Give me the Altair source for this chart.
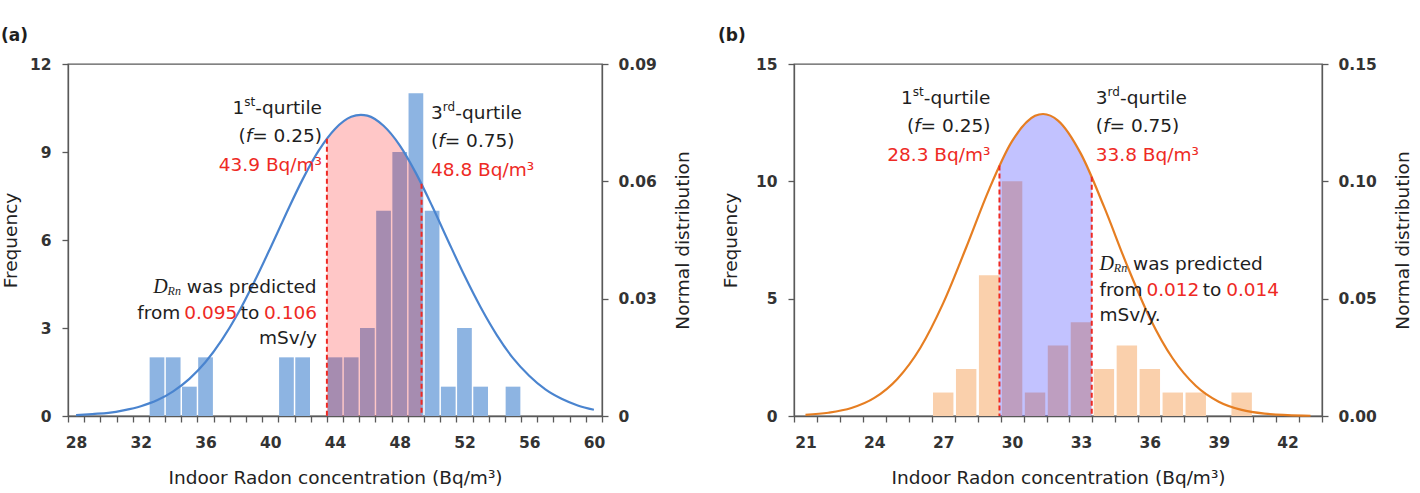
import altair as alt
import pandas as pd

# ---------------- panel (a) data ----------------
a_bins = [33, 34, 35, 36, 41, 42, 44, 45, 46, 47, 48, 49, 50, 51, 52, 53, 55]
a_freq = [2, 2, 1, 2, 2, 2, 2, 2, 3, 7, 9, 11, 7, 1, 3, 1, 1]
a_curve_x = [28, 29, 30, 31, 32, 33, 34, 35, 36, 37, 38, 39, 40, 41, 42, 43, 44, 45, 45.6,
             46, 47, 48, 49, 50, 51, 52, 53, 54, 55, 56, 57, 58, 59, 60]
a_curve_p = [0.0002, 0.0005, 0.0008, 0.0015, 0.0025, 0.0040, 0.0063, 0.0095, 0.0138, 0.0194,
             0.0262, 0.0342, 0.0429, 0.0519, 0.0605, 0.0679, 0.0734, 0.0765, 0.0770,
             0.0768, 0.0742, 0.0692, 0.0621, 0.0537, 0.0447, 0.0359, 0.0278, 0.0207, 0.0148,
             0.0103, 0.0068, 0.0044, 0.0027, 0.0016]
a_shade_x = [43.5, 44, 45, 45.6, 46, 47, 48, 49, 49.35]
a_shade_p = [0.0709, 0.0734, 0.0765, 0.0770, 0.0768, 0.0742, 0.0692, 0.0621, 0.0594]
a_q_x = [43.5, 49.35]
a_q_p = [0.0709, 0.0594]
a_xlabels = [28, 32, 36, 40, 44, 48, 52, 56, 60]
a_freq_ticks = [0, 3, 6, 9, 12]
a_pdf_ticks = [0, 0.03, 0.06, 0.09]

# ---------------- panel (b) data ----------------
b_bins = [27, 28, 29, 30, 31, 32, 33, 34, 35, 36, 37, 38, 40]
b_freq = [1, 2, 6, 10, 1, 3, 4, 2, 3, 2, 1, 1, 1]
b_curve_x = [21, 22, 23, 24, 25, 26, 27, 28, 29, 30, 31, 31.35, 32, 33, 34, 35, 36, 37, 38,
             39, 40, 41, 42, 43]
b_curve_p = [0.0005, 0.0014, 0.0034, 0.0077, 0.0158, 0.0290, 0.0481, 0.0718, 0.0966, 0.1171,
             0.1279, 0.1287, 0.1259, 0.1117, 0.0893, 0.0644, 0.0418, 0.0245, 0.0129, 0.0061,
             0.0026, 0.0010, 0.0004, 0.0001]
b_shade_x = [29.45, 30, 31, 31.35, 32, 33, 33.47]
b_shade_p = [0.1067, 0.1171, 0.1279, 0.1287, 0.1259, 0.1117, 0.1019]
b_q_x = [29.45, 33.47]
b_q_p = [0.1067, 0.1019]
b_xlabels = [21, 24, 27, 30, 33, 36, 39, 42]
b_freq_ticks = [0, 5, 10, 15]
b_pdf_ticks = [0, 0.05, 0.10, 0.15]

XTITLE = "Indoor Radon concentration (Bq/m³)"
YTITLE_L = "Frequency"
YTITLE_R = "Normal distribution"

# ---------------- styling ----------------
FONT = "DejaVu Sans"
SERIF = "Liberation Serif"
AX = "#595959"
BLACK = "#1e1e1e"
RED = "#EE2A24"
FS = 18.5

DV = {' ': 0.318, '.': 0.318, '(': 0.390, ')': 0.390, '=': 0.838, '-': 0.361, '/': 0.337,
      '³': 0.401, 'a': 0.613, 'b': 0.635, 'c': 0.550, 'd': 0.635, 'e': 0.615, 'f': 0.352,
      'i': 0.278, 'l': 0.278, 'm': 0.974, 'n': 0.634, 'o': 0.612, 'p': 0.635, 'q': 0.635,
      'r': 0.411, 's': 0.521, 't': 0.392, 'u': 0.634, 'v': 0.592, 'w': 0.818, 'y': 0.592,
      'B': 0.686, 'D': 0.770, 'R': 0.695, 'S': 0.635}
for _d in '0123456789':
    DV[_d] = 0.636
SERIF_I = {'D': 0.722, 'R': 0.611, 'n': 0.5}

ONE = pd.DataFrame({'k': [0]})


def seg(text, color=BLACK, size=FS, font=FONT, style='normal', dy=0, gap=0.0):
    return dict(text=text, color=color, size=size, font=font, style=style, dy=dy, gap=gap)


def measure(s):
    table = SERIF_I if s['font'] == SERIF else DV
    return sum(table.get(ch, 0.6) for ch in s['text']) * s['size']


def line_layers(segs, x, y, align):
    widths = [measure(s) for s in segs]
    total = sum(widths) + sum(s['gap'] for s in segs)
    cur = x - total if align == 'right' else x
    out = []
    for s, w in zip(segs, widths):
        cur += s['gap']
        out.append(
            alt.Chart(ONE).mark_text(
                align='left', baseline='middle', text=s['text'], font=s['font'],
                fontSize=s['size'], fontStyle=s['style'], color=s['color'], dy=s['dy']
            ).encode(x=alt.value(cur), y=alt.value(y))
        )
        cur += w
    return out


SP = DV[' '] * FS


def annotations(q1, q3, v1, v3, d1, d2, last, p1, p3, pd_, align_d):
    layers = []
    # first quartile (right aligned)
    layers += line_layers([seg("1"), seg("st", size=12, dy=-5.5), seg("-qurtile")], p1[0], p1[1], 'right')
    layers += line_layers([seg("("), seg("f", style='italic'), seg(q1)], p1[0], p1[1] + 28.5, 'right')
    layers += line_layers([seg(v1, color=RED)], p1[0], p1[1] + 57, 'right')
    # third quartile (left aligned)
    layers += line_layers([seg("3"), seg("rd", size=12, dy=-5.5), seg("-qurtile")], p3[0], p3[1], 'left')
    layers += line_layers([seg("("), seg("f", style='italic'), seg(q3)], p3[0], p3[1] + 28.5, 'left')
    layers += line_layers([seg(v3, color=RED)], p3[0], p3[1] + 57, 'left')
    # dose text
    layers += line_layers([seg("D", size=20, font=SERIF, style='italic'),
                           seg("Rn", size=12, font=SERIF, style='italic', dy=4),
                           seg("was predicted", gap=SP)], pd_[0], pd_[1], align_d)
    layers += line_layers([seg("from"), seg(d1, color=RED, gap=SP * 0.6), seg("to", gap=SP * 0.6),
                           seg(d2, color=RED, gap=SP * 0.8)], pd_[0], pd_[1] + 25.5, align_d)
    layers += line_layers([seg(last)], pd_[0], pd_[1] + 51, align_d)
    return layers


def panel(bins, freq, cx, cp, sx, sp, qx, qp, xlabels, xdom, fticks, pticks, pfmt,
          bar_col, half, fill_col, fill_op, line_col, W, H, ltitle_pad, texts, plabel, plabel_x):
    nslots = int(round(xdom[1] - xdom[0]))
    bounds = [xdom[0] + k for k in range(nslots + 1)]
    slot_px = W / nslots
    xscale = alt.Scale(domain=xdom, nice=False, zero=False)
    lab_list = ",".join(str(v) for v in xlabels)
    xaxis = alt.Axis(values=bounds,
                     labelExpr=f"indexof([{lab_list}], datum.value + 0.5) >= 0 ? format(datum.value + 0.5, 'd') : ''",
                     labelOffset=slot_px / 2, labelOverlap=False, labelFlush=False,
                     title=XTITLE, tickSize=6, labelPadding=13, titlePadding=18, grid=False)
    fscale = alt.Scale(domain=[0, fticks[-1]], nice=False)
    pscale = alt.Scale(domain=[0, pticks[-1]], nice=False)

    bars = alt.Chart(pd.DataFrame({'c': bins, 'f': freq, 'z': [0] * len(bins)})).transform_calculate(
        x0=f'datum.c - {half}', x1=f'datum.c + {half}'
    ).mark_bar(color=bar_col).encode(
        x=alt.X('x0:Q', scale=xscale, axis=xaxis), x2='x1:Q',
        y=alt.Y('f:Q', scale=fscale,
                axis=alt.Axis(values=fticks, format='d', title=YTITLE_L, orient='left',
                              titlePadding=ltitle_pad, labelPadding=11, tickSize=6, grid=False)),
        y2='z:Q')
    area = alt.Chart(pd.DataFrame({'x': sx, 'p': sp})).mark_area(
        color=fill_col, opacity=fill_op, interpolate='monotone'
    ).encode(x=alt.X('x:Q', scale=xscale, axis=xaxis), y=alt.Y('p:Q', scale=pscale, axis=None))
    line = alt.Chart(pd.DataFrame({'x': cx, 'p': cp})).mark_line(
        color=line_col, strokeWidth=2.2, interpolate='monotone'
    ).encode(x=alt.X('x:Q', scale=xscale, axis=xaxis),
             y=alt.Y('p:Q', scale=pscale,
                     axis=alt.Axis(values=pticks, format=pfmt, title=YTITLE_R, orient='right',
                                   titleAngle=-90, titleBaseline='top', titlePadding=17,
                                   labelPadding=10, tickSize=6, grid=False)))
    rules = alt.Chart(pd.DataFrame({'x': qx, 'p': qp, 'z': [0] * len(qx)})).mark_rule(
        color=RED, strokeDash=[5, 3], strokeWidth=2
    ).encode(x=alt.X('x:Q', scale=xscale, axis=xaxis),
             y=alt.Y('p:Q', scale=pscale, axis=None), y2='z:Q')
    lab = alt.Chart(ONE).mark_text(align='left', baseline='middle', text=plabel, font=FONT,
                                   fontSize=17, fontWeight='bold', color=BLACK
                                   ).encode(x=alt.value(plabel_x), y=alt.value(-28))
    return alt.layer(bars, area, line, rules, *texts, lab).resolve_scale(y='independent').properties(
        width=W, height=H)


ta = annotations("= 0.25)", "= 0.75)", "43.9 Bq/m³", "48.8 Bq/m³", "0.095", "0.106", "mSv/y",
                 (254, 43.6), (363, 48.6), (249, 223), 'right')
tb = annotations("= 0.25)", "= 0.75)", "28.3 Bq/m³", "33.8 Bq/m³", "0.012", "0.014", "mSv/y.",
                 (196.4, 33.7), (301.8, 33.7), (305.4, 200.3), 'left')

pa = panel(a_bins, a_freq, a_curve_x, a_curve_p, a_shade_x, a_shade_p, a_q_x, a_q_p, a_xlabels,
           [27.5, 60.5], a_freq_ticks, a_pdf_ticks, '.2~f',
           '#8DB4E2', 0.455, '#FF0000', 0.22, '#4A84CF', 534, 352, 9, ta, "(a)", -67)
pb = panel(b_bins, b_freq, b_curve_x, b_curve_p, b_shade_x, b_shade_p, b_q_x, b_q_p, b_xlabels,
           [20.5, 43.5], b_freq_ticks, b_pdf_ticks, '.2f',
           '#FAD0AC', 0.445, '#0000FF', 0.24, '#E67E22', 528, 352, 15, tb, "(b)", -76)

chart = alt.hconcat(pa, pb, spacing=24).properties(
    padding={'left': 0, 'top': 26, 'right': 0, 'bottom': 0}, background='white'
).configure_view(stroke=AX, strokeWidth=1.3).configure_axis(
    domainColor=AX, tickColor=AX, domainWidth=1.3, tickWidth=1.3,
    labelFont=FONT, labelFontSize=15.5, labelFontWeight='bold', labelColor='#333333',
    titleFont=FONT, titleFontSize=18.5, titleFontWeight='normal', titleColor='#222222'
)

chart.save("out.html", embed_options={"renderer": "svg", "actions": False})
